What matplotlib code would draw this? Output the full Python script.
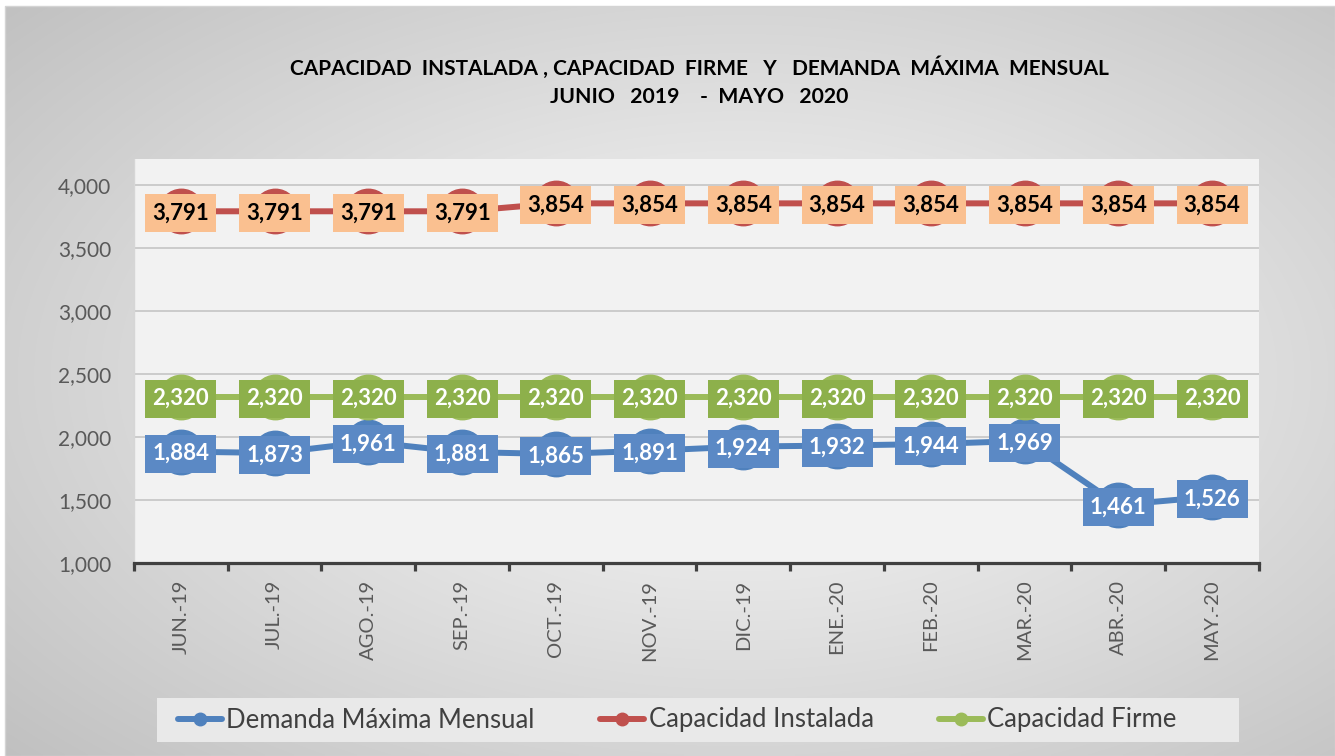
import numpy as np
import matplotlib
matplotlib.use("Agg")
import matplotlib.pyplot as plt
from matplotlib.path import Path
from matplotlib.lines import Line2D
from matplotlib.patches import Rectangle

# ---------------- data ----------------
months = ["JUN.-19", "JUL.-19", "AGO.-19", "SEP.-19", "OCT.-19", "NOV.-19",
          "DIC.-19", "ENE.-20", "FEB.-20", "MAR.-20", "ABR.-20", "MAY.-20"]
demanda = [1884, 1873, 1961, 1881, 1865, 1891, 1924, 1932, 1944, 1969, 1461, 1526]
instalada = [3791, 3791, 3791, 3791, 3854, 3854, 3854, 3854, 3854, 3854, 3854, 3854]
firme = [2320, 2320, 2320, 2320, 2320, 2320, 2320, 2320, 2320, 2320, 2320, 2320]
series_names = ["Demanda Máxima Mensual", "Capacidad Instalada", "Capacidad Firme"]
yticks = [1000, 1500, 2000, 2500, 3000, 3500, 4000]
title1 = "CAPACIDAD  INSTALADA , CAPACIDAD  FIRME   Y   DEMANDA  MÁXIMA  MENSUAL"
title2 = "JUNIO   2019    -  MAYO   2020"

# ---------------- style ----------------
W, H, DPI = 1335, 756, 100
FONT = ["Lato", "DejaVu Sans"]
plt.rcParams["font.family"] = FONT

c_blue, c_red, c_green = "#4F81BD", "#C0504D", "#9BBB59"
box_blue, box_orange, box_green = "#5B89C5", "#FAC090", "#8DB04B"
tick_col = "#595959"

fig = plt.figure(figsize=(W / DPI, H / DPI), dpi=DPI, facecolor="white")

def fx(px):
    return px / W

def fy(py):
    return 1 - py / H

# background gradient (chart area)
bg = fig.add_axes([fx(5), 0, fx(1330), 1 - 6 / H])
bg.set_zorder(-5)
gx = np.linspace(0, 1330, 400)
gy = np.linspace(0, 750, 240)
GX, GY = np.meshgrid(gx, gy)
r = np.sqrt(((GX - 735) / 760) ** 2 + ((GY - 370) / 430) ** 2) / np.sqrt(2)
r = np.clip(r, 0, 1)
lum = 0.975 - (0.975 - 0.735) * r ** 1.1
bg.imshow(np.dstack([lum, lum, lum]), extent=[0, 1, 0, 1], aspect="auto",
          origin="upper", interpolation="bilinear")
bg.set_xlim(0, 1)
bg.set_ylim(0, 1)
bg.axis("off")
fig.patches.append(Rectangle((fx(5), 0), fx(1330), 1 - 6 / H, transform=fig.transFigure,
                             fc="none", ec="#d4d4d4", lw=1.0, zorder=-4))

# plot area
ax = fig.add_axes([fx(134), fy(563), fx(1259 - 134), (563 - 159) / H])
ax.set_facecolor("#F2F2F2")
x = np.arange(len(months))
ax.set_xlim(-0.5, len(months) - 0.5)
ax.set_ylim(1000, 4206)

for yv in yticks[1:]:
    ax.axhline(yv, color="#C9C9C9", lw=1.3, zorder=1)

def fixed_box(w_px, h_px):
    def style(x0, y0, width, height, mutation_size):
        cx = x0 + width / 2.0
        cy = y0 + height / 2.0
        w = w_px * DPI / 100.0
        h = h_px * DPI / 100.0
        verts = [(cx - w / 2, cy - h / 2), (cx + w / 2, cy - h / 2),
                 (cx + w / 2, cy + h / 2), (cx - w / 2, cy + h / 2),
                 (cx - w / 2, cy - h / 2)]
        codes = [Path.MOVETO, Path.LINETO, Path.LINETO, Path.LINETO, Path.CLOSEPOLY]
        return Path(verts, codes)
    return style

series = [
    (demanda, c_blue, box_blue, "white"),
    (instalada, c_red, box_orange, "black"),
    (firme, c_green, box_green, "white"),
]
for vals, lc, bc, tc in series:
    ax.plot(x, vals, color=lc, lw=4.3, marker="o", markersize=32,
            markerfacecolor=lc, markeredgecolor=lc, zorder=3, solid_capstyle="round")
    for xi, v in zip(x, vals):
        ax.text(xi, v, f"{v:,}", ha="center", va="center_baseline", fontsize=16,
                fontweight="bold", color=tc, zorder=6,
                bbox=dict(boxstyle=fixed_box(71, 38), fc=bc, ec="none"))

# axes styling
for s in ["top", "right"]:
    ax.spines[s].set_visible(False)
ax.spines["left"].set_color("#D6D6D6")
ax.spines["left"].set_linewidth(1.0)
ax.spines["bottom"].set_color("#404040")
ax.spines["bottom"].set_linewidth(2.3)
ax.spines["bottom"].set_zorder(4)

ax.set_yticks(yticks)
ax.set_yticklabels([f"{v:,}" for v in yticks])
ax.tick_params(axis="y", length=0, pad=16.5, labelsize=15, labelcolor=tick_col)

ax.set_xticks(x)
ax.set_xticklabels(months, rotation=90, va="top", ha="center")
ax.tick_params(axis="x", which="major", length=0, pad=12, labelsize=14.5, labelcolor=tick_col)
ax.set_xticks(np.arange(-0.5, len(months) + 0.5, 1.0), minor=True)
ax.tick_params(axis="x", which="minor", length=5.5, width=2.3, color="#404040", direction="out")

# title
fig.text(fx(699), fy(68), title1, ha="center", va="center", fontsize=15,
         fontweight="bold", color="black")
fig.text(fx(699), fy(97), title2, ha="center", va="center", fontsize=15.3,
         fontweight="bold", color="black")

# legend
fig.patches.append(Rectangle((fx(157), fy(742)), fx(1239 - 157), (742 - 698) / H,
                             transform=fig.transFigure, fc="#E9E9E9", ec="none", zorder=1))
handles = [Line2D([], [], color=c, lw=4.3, marker="o", markersize=9,
                  markerfacecolor=c, markeredgecolor=c, solid_capstyle="round")
           for c in (c_blue, c_red, c_green)]
leg = fig.legend(handles, series_names, loc="center left",
                 bbox_to_anchor=(fx(178), fy(720)), frameon=False, ncol=3,
                 fontsize=18.5, handlelength=1.72, handletextpad=0.16,
                 columnspacing=2.55, borderpad=0, borderaxespad=0)
for t in leg.get_texts():
    t.set_color("#404040")

fig.savefig("out.png", dpi=DPI, facecolor="white")
